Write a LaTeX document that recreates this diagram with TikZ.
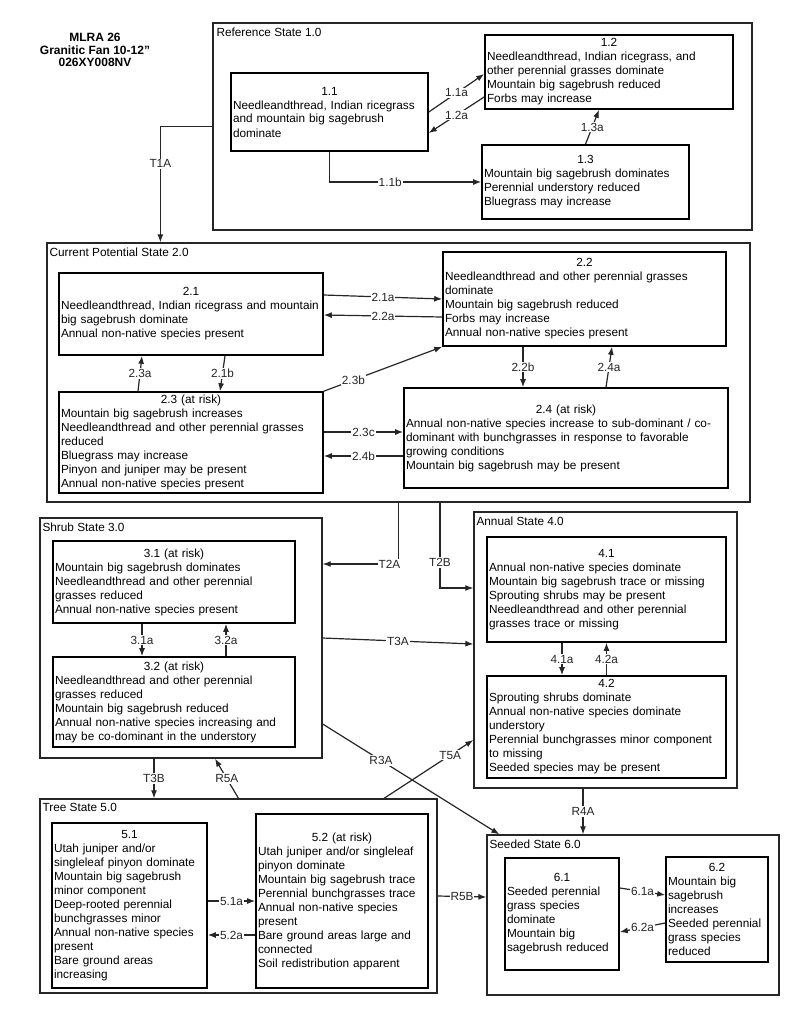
\documentclass[tikz,border=0pt]{standalone}
\usepackage{fontspec}
\setmainfont{Liberation Sans}
\usetikzlibrary{arrows.meta, positioning, calc}
\newcommand{\dfont}{\fontsize{11.8pt}{14pt}\selectfont}
\newcommand{\hd}[1]{\makebox[\hsize]{#1}}

\begin{document}
\begin{tikzpicture}[
  x=1pt, y=-1pt,
  statebox/.style 2 args={rectangle, draw=black!85, line width=1.3pt, minimum width=#1pt, minimum height=#2pt, inner sep=0pt},
  phasebox/.style 2 args={rectangle, draw=black, line width=1.6pt, text width=#1pt, minimum height=#2pt, inner xsep=2pt, inner ysep=1pt, align=left, font=\dfont},
  statelabel/.style={anchor=north west, inner sep=2pt, font=\dfont},
  flow/.style={-{Latex[length=8pt,width=6pt]}, line width=1.2pt, black!85},
  tlabel/.style={fill=white, inner sep=1pt, font=\dfont}
]
  \useasboundingbox (0,0) rectangle (800,1035);

  % Title
  \node[font=\fontsize{12pt}{12.5pt}\selectfont\bfseries, align=center] (title) at (95,50) {MLRA 26\\Granitic Fan 10-12"\\026XY008NV};

  % Reference state
  \node[statebox={539}{207}] (s1) at (482.5,126.5) {};
  \node[statelabel] at ([xshift=2pt,yshift=-3pt]s1.north west) {Reference State 1.0};
  \node[phasebox={193}{78}] (p11) at (329.5,112) {\hd{1.1}\\Needleandthread, Indian ricegrass\\and mountain big sagebrush\\dominate};
  \node[phasebox={244}{74}] (p12) at (609,72) {\hd{1.2}\\Needleandthread, Indian ricegrass, and\\other perennial grasses dominate\\Mountain big sagebrush reduced\\Forbs may increase};
  \node[phasebox={203}{74}] (p13) at (585.5,182) {\hd{1.3}\\Mountain big sagebrush dominates\\Perennial understory reduced\\Bluegrass may increase};

  % Current potential state
  \node[statebox={703}{259}] (s2) at (398.5,372.5) {};
  \node[statelabel] at ([xshift=1pt,yshift=-3pt]s2.north west) {Current Potential State 2.0};
  \node[phasebox={260}{82}] (p21) at (191,314) {\hd{2.1}\\Needleandthread, Indian ricegrass and mountain\\big sagebrush dominate\\Annual non-native species present};
  \node[phasebox={279}{94}] (p22) at (584.5,299) {\hd{2.2}\\Needleandthread and other perennial grasses\\dominate\\Mountain big sagebrush reduced\\Forbs may increase\\Annual non-native species present};
  \node[phasebox={260}{101}] (p23) at (191,442.5) {\hd{2.3 (at risk)}\\Mountain big sagebrush increases\\Needleandthread and other perennial grasses\\reduced\\Bluegrass may increase\\Pinyon and juniper may be present\\Annual non-native species present};
  \node[phasebox={320}{100}] (p24) at (566,438) {\hd{2.4 (at risk)}\\Annual non-native species increase to sub-dominant / co-\\dominant with bunchgrasses in response to favorable\\growing conditions\\Mountain big sagebrush may be present};

  % Shrub state
  \node[statebox={282}{240}] (s3) at (181,638) {};
  \node[statelabel] at ([xshift=1pt,yshift=-3pt]s3.north west) {Shrub State 3.0};
  \node[phasebox={238}{82}] (p31) at (174,582) {\hd{3.1 (at risk)}\\Mountain big sagebrush dominates\\Needleandthread and other perennial\\grasses reduced\\Annual non-native species present};
  \node[phasebox={238}{90}] (p32) at (174,702) {\hd{3.2 (at risk)}\\Needleandthread and other perennial\\grasses reduced\\Mountain big sagebrush reduced\\Annual non-native species increasing and\\may be co-dominant in the understory};

  % Annual state
  \node[statebox={263}{276}] (s4) at (605.5,650) {};
  \node[statelabel] at ([xshift=1pt,yshift=-3pt]s4.north west) {Annual State 4.0};
  \node[phasebox={235}{105}] (p41) at (606.5,589.5) {\hd{4.1}\\Annual non-native species dominate\\Mountain big sagebrush trace or missing\\Sprouting shrubs may be present\\Needleandthread and other perennial\\grasses trace or missing};
  \node[phasebox={235}{102}] (p42) at (606.5,727) {\hd{4.2}\\Sprouting shrubs dominate\\Annual non-native species dominate\\understory\\Perennial bunchgrasses minor component\\to missing\\Seeded species may be present};

  % Tree state
  \node[statebox={397}{194}] (s5) at (238.5,896) {};
  \node[statelabel] at ([xshift=1pt,yshift=-3pt]s5.north west) {Tree State 5.0};
  \node[phasebox={151}{165}] (p51) at (129.5,905.5) {\hd{5.1}\\Utah juniper and/or\\singleleaf pinyon dominate\\Mountain big sagebrush\\minor component\\Deep-rooted perennial\\bunchgrasses minor\\Annual non-native species\\present\\Bare ground areas\\increasing};
  \node[phasebox={168}{174}] (p52) at (342,901) {\hd{5.2 (at risk)}\\Utah juniper and/or singleleaf\\pinyon dominate\\Mountain big sagebrush trace\\Perennial bunchgrasses trace\\Annual non-native species\\present\\Bare ground areas large and\\connected\\Soil redistribution apparent};

  % Seeded state
  \node[statebox={292}{160}] (s6) at (633,915) {};
  \node[statelabel] at ([xshift=1pt,yshift=-3pt]s6.north west) {Seeded State 6.0};
  \node[phasebox={110}{112}] (p61) at (562,914) {\hd{6.1}\\Seeded perennial\\grass species\\dominate\\Mountain big\\sagebrush reduced};
  \node[phasebox={98}{105}] (p62) at (717,909.5) {\hd{6.2}\\Mountain big\\sagebrush\\increases\\Seeded perennial\\grass species\\reduced};

  % Pathways within states
  \draw[flow] (p11.east) -- ([yshift=-2pt]p12.west) node[midway, tlabel] {1.1a};
  \draw[flow] ([yshift=-25pt]p12.west) -- ([yshift=-21pt]p11.east) node[midway, tlabel] {1.2a};
  \draw[flow] (p11.south) |- (p13.west) node[pos=0.7, tlabel] {1.1b};
  \draw[flow] (p13.north) -- ([xshift=-10pt]p12.south) node[midway, tlabel] {1.3a};

  \draw[flow] ([yshift=19pt]p21.east) -- (p22.west) node[midway, tlabel] {2.1a};
  \draw[flow] ([yshift=-18pt]p22.west) -- ([yshift=-1pt]p21.east) node[midway, tlabel] {2.2a};
  \draw[flow] ([xshift=-53pt]p23.north) -- ([xshift=-49pt]p21.south) node[midway, tlabel] {2.3a};
  \draw[flow] ([xshift=34pt]p21.south) -- ([xshift=29pt]p23.north) node[midway, tlabel] {2.1b};
  \draw[flow] (p23.north east) -- (p22.south west) node[pos=0.25, tlabel] {2.3b};
  \draw[flow] ([xshift=-61.5pt]p22.south) -- ([xshift=-43pt]p24.north) node[midway, tlabel] {2.2b};
  \draw[flow] ([xshift=40pt]p24.north) -- ([xshift=27.5pt]p22.south) node[midway, tlabel] {2.4a};
  \draw[flow] ([yshift=10.5pt]p23.east) -- ([yshift=6pt]p24.west) node[midway, tlabel] {2.3c};
  \draw[flow] ([yshift=-18pt]p24.west) -- ([yshift=-13.5pt]p23.east) node[midway, tlabel] {2.4b};

  \draw[flow] ([xshift=-32pt]p31.south) -- ([xshift=-32pt]p32.north) node[midway, tlabel] {3.1a};
  \draw[flow] ([xshift=52pt]p32.north) -- ([xshift=52pt]p31.south) node[midway, tlabel] {3.2a};
  \draw[flow] ([xshift=-44.5pt]p41.south) -- ([xshift=-44.5pt]p42.north) node[midway, tlabel] {4.1a};
  \draw[flow] (p42.north) -- (p41.south) node[midway, tlabel] {4.2a};

  \draw[flow] ([yshift=4.5pt]p51.east) -- (p52.west) node[midway, tlabel] {5.1a};
  \draw[flow] ([yshift=-34pt]p52.west) -- ([yshift=-29.5pt]p51.east) node[midway, tlabel] {5.2a};
  \draw[flow] ([yshift=26pt]p61.east) -- ([yshift=14.5pt]p62.west) node[midway, tlabel] {6.1a};
  \draw[flow] ([yshift=-13.5pt]p62.west) -- ([yshift=-18pt]p61.east) node[midway, tlabel] {6.2a};

  % Transitions and restorations
  \draw[flow] (s1.west) -- ++(-52,0) coordinate (t1) -- (t1 |- s2.north) node[pos=0.32, tlabel] {T1A};
  \draw[flow] (s2.south) |- ([yshift=74pt]s3.east) node[pos=0.56, tlabel] {T2A};
  \draw[flow] ([xshift=41.5pt]s2.south) |- ([yshift=62pt]s4.west) node[pos=0.35, tlabel] {T2B};
  \draw[flow] (s3.east) -- ([yshift=6pt]s4.west) node[midway, tlabel] {T3A};
  \draw[flow] ([yshift=-86pt]s3.east) -- ([xshift=13pt]s6.north west) node[pos=0.33, tlabel] {R3A};
  \draw[flow] ([xshift=145.5pt]s5.north) -- ([yshift=-90pt]s4.west) node[pos=0.74, tlabel] {T5A};
  \draw[flow] ([xshift=-27pt]s3.south) -- ([xshift=-84.5pt]s5.north) node[midway, tlabel] {T3B};
  \draw[flow] (s5.north) -- ([xshift=34pt]s3.south) node[midway, tlabel] {R5A};
  \draw[flow] ([xshift=-22.5pt]s4.south) -- ([xshift=-50pt]s6.north) node[midway, tlabel] {R4A};
  \draw[flow] (s5.east) -- ([yshift=18pt]s6.west) node[midway, tlabel] {R5B};
\end{tikzpicture}
\end{document}
